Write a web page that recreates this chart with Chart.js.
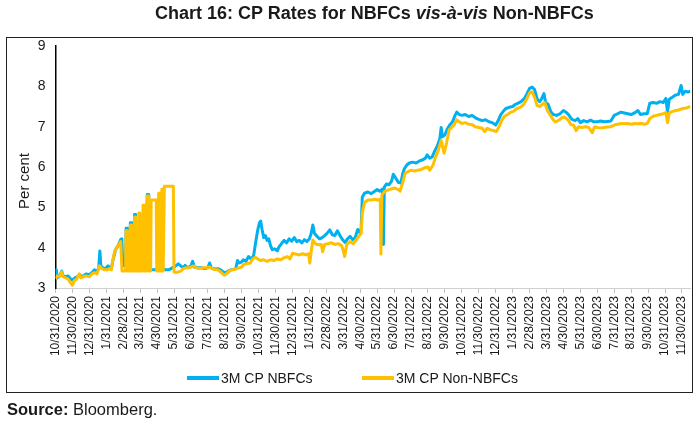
<!DOCTYPE html>
<html>
<head>
<meta charset="utf-8">
<script src="https://cdn.jsdelivr.net/npm/chart.js@4"></script>
<style>
  body { margin: 0; background: #fff; font-family: "Liberation Sans", Arial, sans-serif; color: #1a1a1a; }
  #wrap { position: relative; width: 700px; height: 423px; }
  #wrap canvas { position: absolute; left: 0; top: 0; }
  .title { position: absolute; top: 3px; left: 155px; font-weight: bold; font-size: 18px; white-space: nowrap; }
  .box { position: absolute; left: 6px; top: 37px; width: 687px; height: 356px; box-sizing: border-box; border: 1.5px solid #222; pointer-events: none; }
  .legend { position: absolute; top: 370px; font-size: 14px; white-space: nowrap; }
  .legend i { display: inline-block; width: 32px; height: 4px; vertical-align: middle; margin-right: 2px; position: relative; top: -1px; }
  .source { position: absolute; left: 7px; top: 400px; font-size: 16.5px; }
</style>
</head>
<body>
<div id="wrap">
  <canvas id="chart" width="700" height="423"></canvas>
  <div class="title">Chart 16: CP Rates for NBFCs <i>vis-à-vis</i> Non-NBFCs</div>
  <div class="box"></div>
  <div class="legend" style="left:187px"><i style="background:#00B0F0"></i>3M CP NBFCs</div>
  <div class="legend" style="left:362px"><i style="background:#FFC000"></i>3M CP Non-NBFCs</div>
  <div class="source"><b>Source:</b> Bloomberg.</div>
</div>
<script>
// x = months after 31 Oct 2020, y = per cent
const tickLabels = [
  '10/31/2020', '11/30/2020', '12/31/2020', '1/31/2021', '2/28/2021', '3/31/2021',
  '4/30/2021', '5/31/2021', '6/30/2021', '7/31/2021', '8/31/2021', '9/30/2021',
  '10/31/2021', '11/30/2021', '12/31/2021', '1/31/2022', '2/28/2022', '3/31/2022',
  '4/30/2022', '5/31/2022', '6/30/2022', '7/31/2022', '8/31/2022', '9/30/2022',
  '10/31/2022', '11/30/2022', '12/31/2022', '1/31/2023', '2/28/2023', '3/31/2023',
  '4/30/2023', '5/31/2023', '6/30/2023', '7/31/2023', '8/31/2023', '9/30/2023',
  '10/31/2023', '11/30/2023'
];

const nbfc = [
  [0, 3.30], [0.05, 3.45], [0.1, 3.25], [0.25, 3.30], [0.37, 3.42], [0.45, 3.30], [0.6, 3.28],
  [0.75, 3.30], [0.9, 3.22], [1.0, 3.20], [1.15, 3.25], [1.3, 3.28], [1.45, 3.32], [1.6, 3.28],
  [1.8, 3.35], [2.0, 3.33], [2.15, 3.38], [2.3, 3.45], [2.45, 3.42], [2.55, 3.48], [2.62, 3.92],
  [2.68, 3.55], [2.8, 3.50], [2.95, 3.48], [3.1, 3.55], [3.2, 3.50], [3.3, 3.50],
  [3.4, 3.70], [3.55, 3.95], [3.7, 4.05], [3.85, 4.20], [3.92, 4.22], [3.97, 3.55], [4.1, 3.55],
  [4.14, 3.56], [4.17, 4.48], [4.23, 4.48], [4.26, 3.58], [4.38, 3.60], [4.42, 4.62], [4.48, 4.62],
  [4.51, 3.60], [4.63, 3.62], [4.67, 4.82], [4.73, 4.82], [4.76, 3.60], [4.9, 3.58], [5.05, 3.55],
  [5.2, 3.50], [5.35, 3.48], [5.39, 3.48], [5.42, 5.32], [5.48, 5.32], [5.51, 3.48],
  [5.7, 3.45], [5.9, 3.45], [6.1, 3.50], [6.3, 3.48], [6.5, 3.45], [6.7, 3.45], [6.9, 3.50],
  [7.0, 3.52], [7.1, 3.55], [7.25, 3.60], [7.4, 3.55], [7.55, 3.50], [7.65, 3.56], [7.8, 3.50],
  [8.0, 3.55], [8.1, 3.66], [8.2, 3.52], [8.4, 3.50], [8.6, 3.50], [8.8, 3.48], [9.0, 3.50],
  [9.1, 3.62], [9.2, 3.50], [9.4, 3.47], [9.6, 3.48], [9.75, 3.45], [9.9, 3.40], [10.05, 3.38],
  [10.2, 3.42], [10.35, 3.45], [10.5, 3.46], [10.65, 3.48], [10.75, 3.68], [10.85, 3.62],
  [11.0, 3.65], [11.1, 3.70], [11.25, 3.66], [11.4, 3.78], [11.55, 3.72], [11.7, 3.80],
  [11.85, 4.20], [11.95, 4.45], [12.05, 4.62], [12.12, 4.66], [12.2, 4.45], [12.3, 4.25],
  [12.4, 4.30], [12.5, 4.18], [12.6, 4.22], [12.7, 4.05], [12.8, 3.95], [12.95, 3.97],
  [13.1, 3.92], [13.2, 4.02], [13.35, 4.10], [13.5, 4.18], [13.65, 4.12], [13.8, 4.22],
  [13.95, 4.16], [14.1, 4.25], [14.25, 4.15], [14.4, 4.18], [14.55, 4.12], [14.7, 4.20],
  [14.85, 4.15], [15.0, 4.22], [15.1, 4.35], [15.2, 4.56], [15.3, 4.35], [15.45, 4.28],
  [15.6, 4.22], [15.75, 4.25], [15.9, 4.30], [16.05, 4.36], [16.2, 4.44], [16.35, 4.32],
  [16.5, 4.30], [16.65, 4.42], [16.8, 4.30], [16.95, 4.20], [17.1, 4.13], [17.25, 4.22],
  [17.4, 4.28], [17.55, 4.20], [17.7, 4.25], [17.85, 4.45], [17.95, 4.38], [18.05, 4.45],
  [18.12, 5.25], [18.25, 5.35], [18.45, 5.38], [18.65, 5.34], [18.85, 5.40], [19.0, 5.44],
  [19.15, 5.40], [19.3, 5.45], [19.37, 4.08], [19.42, 5.50], [19.55, 5.58], [19.7, 5.56],
  [19.85, 5.65], [19.95, 5.82], [20.1, 5.72], [20.25, 5.62], [20.4, 5.60], [20.5, 5.82],
  [20.6, 5.95], [20.75, 6.05], [20.9, 6.10], [21.1, 6.12], [21.3, 6.10], [21.5, 6.15],
  [21.7, 6.18], [21.85, 6.22], [21.95, 6.30], [22.1, 6.22], [22.25, 6.25], [22.4, 6.40],
  [22.55, 6.52], [22.7, 6.70], [22.78, 6.98], [22.85, 6.75], [23.0, 6.80], [23.15, 6.95],
  [23.3, 7.05], [23.45, 7.12], [23.6, 7.28], [23.7, 7.36], [23.85, 7.30], [24.0, 7.28],
  [24.2, 7.30], [24.4, 7.25], [24.6, 7.28], [24.8, 7.22], [25.0, 7.18], [25.2, 7.15],
  [25.4, 7.17], [25.6, 7.12], [25.8, 7.10], [26.0, 7.04], [26.15, 7.15], [26.3, 7.30],
  [26.45, 7.38], [26.6, 7.45], [26.8, 7.48], [27.0, 7.50], [27.15, 7.55], [27.3, 7.58],
  [27.5, 7.62], [27.7, 7.70], [27.85, 7.82], [28.0, 7.95], [28.15, 7.98], [28.3, 7.92],
  [28.45, 7.68], [28.6, 7.62], [28.7, 7.68], [28.85, 7.82], [28.95, 7.60], [29.1, 7.55],
  [29.25, 7.38], [29.4, 7.30], [29.6, 7.28], [29.8, 7.32], [30.0, 7.40], [30.15, 7.36],
  [30.3, 7.30], [30.5, 7.18], [30.7, 7.15], [30.85, 7.20], [31.0, 7.10], [31.2, 7.15],
  [31.4, 7.12], [31.6, 7.16], [31.8, 7.12], [32.0, 7.12], [32.2, 7.14], [32.4, 7.12],
  [32.6, 7.13], [32.8, 7.14], [33.0, 7.28], [33.2, 7.32], [33.4, 7.36], [33.6, 7.34],
  [33.8, 7.32], [34.0, 7.30], [34.2, 7.34], [34.4, 7.40], [34.55, 7.30], [34.75, 7.32],
  [34.95, 7.32], [35.1, 7.58], [35.3, 7.60], [35.5, 7.58], [35.7, 7.62], [35.9, 7.60],
  [36.05, 7.70], [36.15, 7.36], [36.25, 7.68], [36.4, 7.72], [36.6, 7.78], [36.8, 7.80],
  [36.95, 8.02], [37.05, 7.80], [37.2, 7.88], [37.35, 7.86], [37.5, 7.88]
];

const nonNbfc = [
  [0, 3.22], [0.1, 3.30], [0.25, 3.28], [0.37, 3.40], [0.45, 3.28], [0.6, 3.25], [0.75, 3.22],
  [0.9, 3.12], [1.0, 3.07], [1.1, 3.18], [1.25, 3.22], [1.4, 3.35], [1.5, 3.25], [1.65, 3.28],
  [1.8, 3.30], [2.0, 3.28], [2.15, 3.35], [2.3, 3.38], [2.45, 3.35], [2.6, 3.55], [2.75, 3.48],
  [2.9, 3.45], [3.05, 3.45], [3.2, 3.48], [3.3, 3.45],
  [3.38, 3.68], [3.5, 3.92], [3.62, 4.00], [3.75, 4.08], [3.85, 4.15], [3.93, 3.42], [4.08, 3.42],
  [4.14, 3.42], [4.17, 4.42], [4.23, 4.42], [4.26, 3.42], [4.39, 3.42], [4.42, 4.56], [4.48, 4.56],
  [4.51, 3.42], [4.64, 3.42], [4.67, 4.76], [4.73, 4.76], [4.76, 3.42], [4.89, 3.42], [4.92, 4.86],
  [4.98, 4.86], [5.01, 3.42], [5.14, 3.42], [5.17, 5.05], [5.23, 5.05], [5.26, 3.42], [5.39, 3.42],
  [5.42, 5.28], [5.48, 5.28], [5.51, 3.42], [5.62, 3.42], [5.65, 5.18], [5.95, 5.18], [5.98, 3.42],
  [6.06, 3.42], [6.09, 5.35], [6.14, 5.35], [6.17, 3.42], [6.25, 3.42], [6.28, 5.45], [6.33, 5.45],
  [6.36, 3.42], [6.4, 3.42], [6.43, 5.52], [6.96, 5.52], [7.0, 3.40],
  [7.1, 3.38], [7.25, 3.40], [7.4, 3.42], [7.55, 3.48], [7.7, 3.50], [7.85, 3.50], [8.0, 3.52],
  [8.15, 3.55], [8.3, 3.50], [8.5, 3.48], [8.7, 3.50], [8.9, 3.50], [9.1, 3.52], [9.25, 3.48],
  [9.4, 3.46], [9.6, 3.45], [9.8, 3.38], [9.95, 3.32], [10.1, 3.35], [10.25, 3.42], [10.4, 3.45],
  [10.55, 3.46], [10.7, 3.48], [10.85, 3.50], [11.0, 3.52], [11.1, 3.58], [11.3, 3.60],
  [11.5, 3.62], [11.65, 3.72], [11.8, 3.76], [11.95, 3.72], [12.1, 3.68], [12.3, 3.70],
  [12.5, 3.66], [12.7, 3.70], [12.9, 3.68], [13.1, 3.72], [13.3, 3.70], [13.5, 3.75],
  [13.7, 3.78], [13.85, 3.72], [14.0, 3.86], [14.2, 3.84], [14.4, 3.82], [14.6, 3.85],
  [14.8, 3.82], [14.95, 3.85], [15.02, 3.62], [15.1, 3.90], [15.2, 4.19], [15.35, 4.10],
  [15.5, 4.07], [15.7, 4.08], [15.78, 3.90], [15.9, 4.08], [16.1, 4.10], [16.3, 4.12],
  [16.5, 4.08], [16.7, 4.10], [16.9, 4.05], [17.0, 3.92], [17.08, 3.78], [17.2, 4.08],
  [17.4, 4.15], [17.6, 4.10], [17.8, 4.22], [17.95, 4.30], [18.05, 4.35], [18.12, 4.85],
  [18.25, 5.12], [18.45, 5.18], [18.65, 5.18], [18.85, 5.20], [19.05, 5.18], [19.18, 5.20],
  [19.22, 3.84], [19.28, 5.30], [19.45, 5.40], [19.6, 5.42], [19.8, 5.45], [20.0, 5.48],
  [20.2, 5.45], [20.35, 5.40], [20.5, 5.60], [20.65, 5.84], [20.8, 5.88], [21.0, 5.92],
  [21.2, 5.90], [21.4, 5.92], [21.6, 5.94], [21.8, 5.98], [22.0, 6.00], [22.1, 5.92],
  [22.3, 6.05], [22.45, 6.25], [22.6, 6.40], [22.78, 6.66], [22.95, 6.34], [23.1, 6.60],
  [23.25, 6.92], [23.4, 6.98], [23.55, 7.05], [23.7, 7.17], [23.85, 7.12], [24.0, 7.08],
  [24.2, 7.10], [24.4, 7.06], [24.6, 7.05], [24.8, 7.00], [25.0, 6.98], [25.2, 6.96],
  [25.35, 6.88], [25.5, 6.96], [25.7, 6.92], [25.9, 6.90], [26.05, 6.88], [26.2, 7.00],
  [26.35, 7.15], [26.5, 7.25], [26.7, 7.30], [26.9, 7.36], [27.05, 7.38], [27.25, 7.45],
  [27.45, 7.48], [27.65, 7.55], [27.85, 7.70], [28.0, 7.84], [28.15, 7.86], [28.3, 7.72],
  [28.45, 7.52], [28.6, 7.50], [28.75, 7.55], [28.9, 7.60], [29.05, 7.40], [29.2, 7.30],
  [29.35, 7.20], [29.5, 7.12], [29.7, 7.15], [29.9, 7.22], [30.05, 7.24], [30.25, 7.18],
  [30.45, 7.05], [30.6, 7.04], [30.75, 6.90], [30.9, 7.00], [31.1, 6.98], [31.3, 7.00],
  [31.5, 6.98], [31.7, 6.85], [31.85, 7.00], [32.0, 6.98], [32.2, 6.97], [32.4, 6.98],
  [32.6, 6.99], [32.8, 7.00], [33.0, 7.04], [33.2, 7.06], [33.4, 7.08], [33.6, 7.07],
  [33.8, 7.08], [34.0, 7.06], [34.2, 7.08], [34.4, 7.07], [34.6, 7.08], [34.8, 7.06],
  [34.95, 7.08], [35.1, 7.20], [35.3, 7.26], [35.5, 7.28], [35.7, 7.30], [35.9, 7.32],
  [36.05, 7.35], [36.15, 7.10], [36.25, 7.34], [36.45, 7.38], [36.65, 7.40], [36.85, 7.42],
  [37.05, 7.45], [37.25, 7.46], [37.5, 7.50]
];

const toPoints = (rows) => rows.map(([x, y]) => ({ x, y }));

// y-axis title placed where the original has it
const axisTitle = {
  id: 'axisTitle',
  afterDraw(chart) {
    const ctx = chart.ctx;
    ctx.save();
    ctx.translate(25, 181);
    ctx.rotate(-Math.PI / 2);
    ctx.font = '15px "Liberation Sans", Arial, sans-serif';
    ctx.fillStyle = '#1a1a1a';
    ctx.textAlign = 'center';
    ctx.textBaseline = 'middle';
    ctx.fillText('Per cent', 0, 0);
    ctx.restore();
  }
};

new Chart(document.getElementById('chart'), {
  type: 'line',
  data: {
    datasets: [
      {
        label: '3M CP NBFCs',
        data: toPoints(nbfc),
        borderColor: '#00B0F0',
        backgroundColor: '#00B0F0',
        borderWidth: 3,
        order: 1
      },
      {
        label: '3M CP Non-NBFCs',
        data: toPoints(nonNbfc),
        borderColor: '#FFC000',
        backgroundColor: '#FFC000',
        borderWidth: 3,
        order: 0
      }
    ]
  },
  options: {
    responsive: false,
    animation: false,
    parsing: false,
    elements: { point: { radius: 0 }, line: { tension: 0, borderJoinStyle: 'round' } },
    layout: { padding: { left: 10.5, right: 9.6, top: 46, bottom: 35 } },
    plugins: { legend: { display: false }, tooltip: { enabled: false } },
    scales: {
      x: {
        type: 'linear',
        min: 0,
        max: 37.5,
        afterBuildTicks: (scale) => { scale.ticks = tickLabels.map((_, i) => ({ value: i })); },
        afterFit: (scale) => { scale.height = 100; },
        grid: { drawOnChartArea: false, drawTicks: true, tickLength: 5, color: '#bfbfbf' },
        border: { color: '#d0d0d0', width: 1 },
        ticks: {
          autoSkip: false,
          minRotation: 90,
          maxRotation: 90,
          padding: 3,
          color: '#1a1a1a',
          font: { family: '"Liberation Sans", Arial, sans-serif', size: 12 },
          callback: (value) => tickLabels[value]
        }
      },
      y: {
        min: 3,
        max: 9,
        afterFit: (scale) => { scale.width = 45; },
        grid: { display: false, drawTicks: false },
        border: { color: '#000', width: 1.5 },
        ticks: {
          stepSize: 1,
          padding: 10,
          color: '#1a1a1a',
          font: { family: '"Liberation Sans", Arial, sans-serif', size: 14 }
        }
      }
    }
  },
  plugins: [axisTitle]
});
</script>
</body>
</html>
